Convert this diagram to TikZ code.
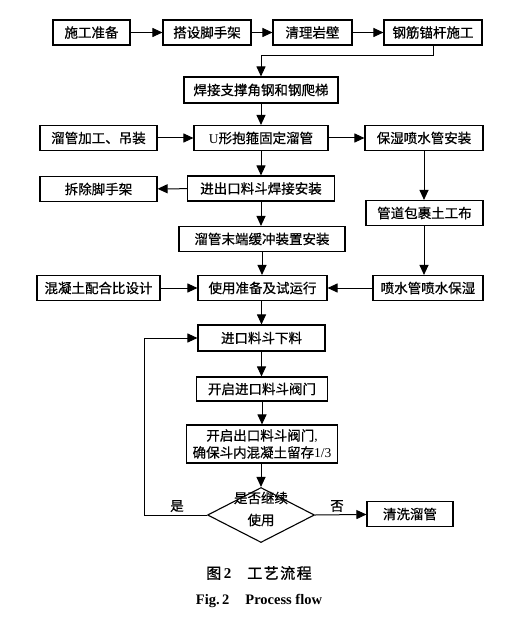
\documentclass[tikz,border=0pt]{standalone}
\usepackage{fontspec}
\setmainfont{Liberation Serif}
\newfontfamily\cjk[FakeBold=0.6]{Noto Sans CJK SC}
\newfontfamily\cjkcap[FakeBold=1.2]{Noto Sans CJK SC}
\usetikzlibrary{arrows.meta,shapes.geometric}

\begin{document}
\begin{tikzpicture}[x=1pt,y=-1pt,
	box/.style={draw,line width=1.1pt,minimum height=25pt,inner sep=2pt,font=\cjk\fontsize{13.5}{16}\selectfont},
	arr/.style={line width=1pt,-{Triangle[length=10pt,width=9pt]}}]
	%%%%% START %%%%%
	\useasboundingbox (0,0) rectangle (530,620);
	
	\node[box,minimum width=77pt] (prep) at (91.5,32.5) {施工准备};
	\node[box,minimum width=88pt] (scaf) at (207,32.5) {搭设脚手架};
	\node[box,minimum width=79pt] (clean) at (312.5,32.5) {清理岩壁};
	\node[box,minimum width=98pt] (anchor) at (433,32.5) {钢筋锚杆施工};
	
	\node[box,minimum width=154pt,minimum height=26pt] (weld) at (261,90) {焊接支撑角钢和钢爬梯};
	
	\node[box,minimum width=117pt] (chute) at (98.5,138) {溜管加工、吊装};
	\node[box,minimum width=134pt] (uclamp) at (261,138) {{\rmfamily U}形抱箍固定溜管};
	\node[box,minimum width=118pt] (pipe) at (424,138) {保湿喷水管安装};
	
	\node[box,minimum width=117pt] (remove) at (98.5,189) {拆除脚手架};
	\node[box,minimum width=147pt] (hopper) at (261,188.5) {进出口料斗焊接安装};
	\node[box,minimum width=117pt] (geo) at (424.5,213) {管道包裹土工布};
	\node[box,minimum width=166pt] (buffer) at (262,239) {溜管末端缓冲装置安装};
	
	\node[box,minimum width=123pt] (mix) at (98.5,288) {混凝土配合比设计};
	\node[box,minimum width=129pt] (trial) at (262.5,288) {使用准备及试运行};
	\node[box,minimum width=110pt] (spray) at (428,288) {喷水管喷水保湿};
	
	\node[box,minimum width=127pt,minimum height=26pt] (feed) at (261.5,338) {进口料斗下料};
	\node[box,minimum width=131pt,minimum height=24pt] (inval) at (262,389) {开启进口料斗阀门};
	\node[box,minimum width=151pt,minimum height=38pt,align=center,font=\cjk\fontsize{13.5}{17}\selectfont] (outval) at (262,444) {开启出口料斗阀门{\rmfamily,}\\确保斗内混凝土留存{\rmfamily 1/3}};
	
	\node[draw,diamond,line width=1.1pt,minimum width=107pt,minimum height=55pt,inner sep=0pt] (decide) at (261,515) {};
	\node[align=center,font=\cjk\fontsize{13.5}{22}\selectfont] (decidetxt) at (261,509) {是否继续\\使用};
	\node[box,minimum width=86pt] (wash) at (410,514) {清洗溜管};
	
	\node[font=\cjk\fontsize{13.5}{16}\selectfont] (yes) at (177,506) {是};
	\node[font=\cjk\fontsize{13.5}{16}\selectfont] (no) at (337,506) {否};
	
	% connectors
	\draw[arr] (prep) -- (scaf);
	\draw[arr] (scaf) -- (clean);
	\draw[arr] (clean) -- (anchor);
	\draw[arr] (anchor.south) -- ++(0,10) -| (weld.north);
	\draw[arr] (weld) -- (weld |- uclamp.north);
	\draw[arr] (chute) -- (uclamp);
	\draw[arr] (uclamp) -- (pipe);
	\draw[arr] (uclamp) -- (uclamp |- hopper.north);
	\draw[arr] (hopper) -- (remove);
	\draw[arr] (hopper) -- (hopper |- buffer.north);
	\draw[arr] (buffer) -- (buffer |- trial.north);
	\draw[arr] (mix) -- (trial);
	\draw[arr] (spray) -- (trial);
	\draw[arr] (pipe.south) -- (pipe.south |- geo.north);
	\draw[arr] (pipe.south |- geo.south) -- (pipe.south |- spray.north);
	\draw[arr] (trial.south -| feed) -- (feed);
	\draw[arr] (feed) -- (feed |- inval.north);
	\draw[arr] (inval) -- (inval |- outval.north);
	\draw[arr] (outval.south -| decide) -- (decide.north);
	\draw[arr] (decide.west) -- ++(-62.5,0) |- (feed.west);
	\draw[arr] (decide.east) -- (wash);
	
	% caption
	\node[font=\cjkcap\fontsize{15}{17}\selectfont] (cap) at (259,573) {图\,{\rmfamily\bfseries 2}\hspace{16pt}工\kern1.5pt 艺\kern1.5pt 流\kern1.5pt 程};
	\node[font=\bfseries\fontsize{14.5}{17}\selectfont] (figcap) at (259,601) {Fig.\,2\hspace{16pt}Process flow};
	%%%%% END %%%%%
\end{tikzpicture}
\end{document}
